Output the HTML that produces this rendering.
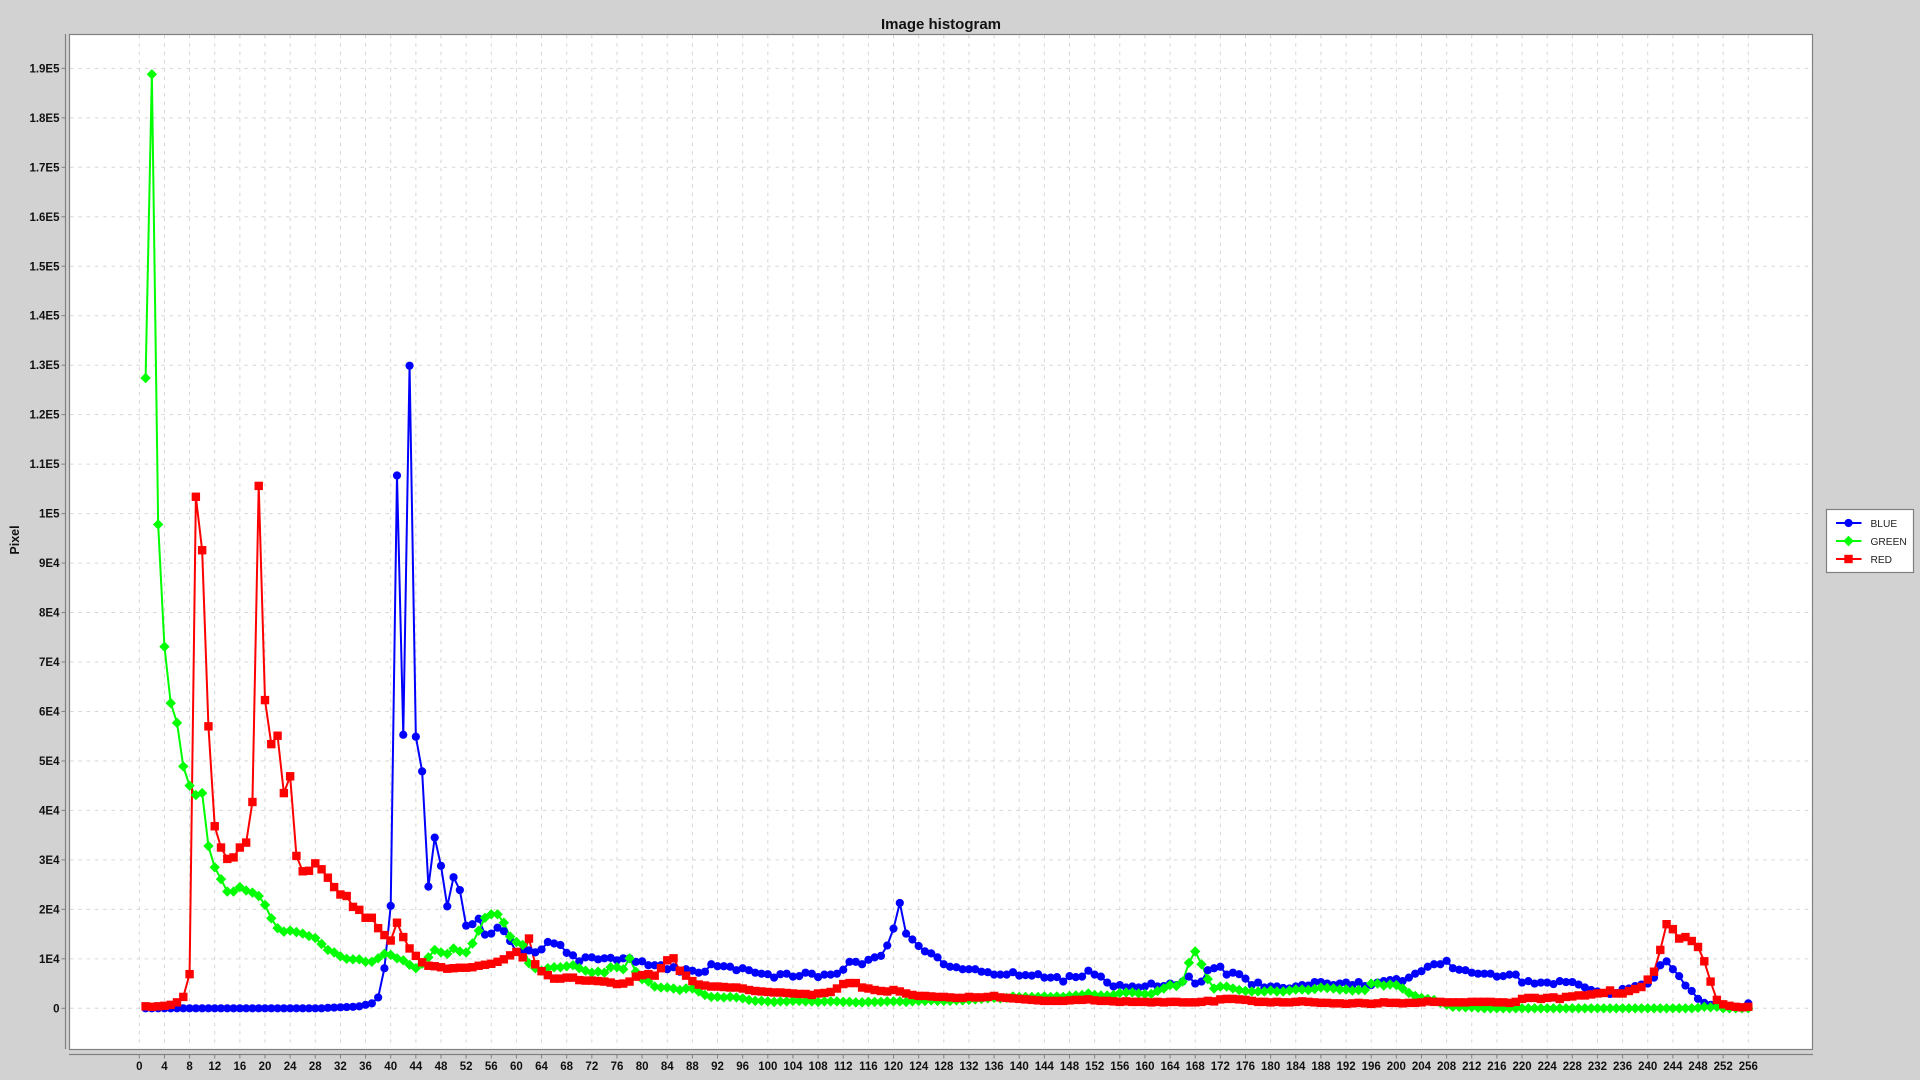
<!DOCTYPE html>
<html lang="en">
<head>
<meta charset="utf-8">
<title>Image histogram</title>
<style>
html,body{margin:0;padding:0;width:1920px;height:1080px;overflow:hidden;background:#d2d2d2;}
svg{display:block;}
text{font-family:"Liberation Sans",sans-serif;fill:#111;}
.tick{font-size:11.5px;font-weight:bold;}
.legend-text{font-size:10.2px;fill:#222;}
</style>
</head>
<body>
<svg id="chart" xmlns="http://www.w3.org/2000/svg" width="1920" height="1080" viewBox="0 0 1920 1080">
  <rect x="0" y="0" width="1920" height="1080" fill="#d2d2d2"/>
  <text x="941" y="29" text-anchor="middle" font-size="15" font-weight="bold">Image histogram</text>
  <rect x="69.5" y="34.5" width="1743" height="1015" fill="#ffffff" stroke="#808080" stroke-width="1.2"/>
  <g id="grid"></g>
  <g id="axes">
    <line x1="65.5" y1="34" x2="65.5" y2="1049" stroke="#808080" stroke-width="1.2"/>
    <line x1="69" y1="1054.5" x2="1813" y2="1054.5" stroke="#808080" stroke-width="1.2"/>
  </g>
  <text transform="translate(19,540) rotate(-90)" text-anchor="middle" font-size="12.5" font-weight="bold">Pixel</text>
  <g id="lines"></g>
  <g id="markers"></g>
  <g id="legend">
    <rect x="1826.5" y="509.5" width="87" height="63" fill="#ffffff" stroke="#808080" stroke-width="1.2"/>
    <g>
      <line x1="1836" y1="523" x2="1861.5" y2="523" stroke="#0000ff" stroke-width="2"/>
      <circle cx="1848.5" cy="523" r="4.1" fill="#0000ff"/>
      <text class="legend-text" x="1870.5" y="527">BLUE</text>
    </g>
    <g>
      <line x1="1836" y1="541" x2="1861.5" y2="541" stroke="#00ff00" stroke-width="2"/>
      <polygon points="1848.5,535.8 1853.7,541 1848.5,546.2 1843.3,541" fill="#00ff00"/>
      <text class="legend-text" x="1870.5" y="545">GREEN</text>
    </g>
    <g>
      <line x1="1836" y1="559" x2="1861.5" y2="559" stroke="#ff0000" stroke-width="2"/>
      <rect x="1844.3" y="554.8" width="8.4" height="8.4" fill="#ff0000"/>
      <text class="legend-text" x="1870.5" y="563">RED</text>
    </g>
  </g>
</svg>
<script>
const xTickLabels = [0,4,8,12,16,20,24,28,32,36,40,44,48,52,56,60,64,68,72,76,80,84,88,92,96,100,104,108,112,116,120,124,128,132,136,140,144,148,152,156,160,164,168,172,176,180,184,188,192,196,200,204,208,212,216,220,224,228,232,236,240,244,248,252,256];
const yTickValues = [0,10000,20000,30000,40000,50000,60000,70000,80000,90000,100000,110000,120000,130000,140000,150000,160000,170000,180000,190000];
const yTickLabels = ["0","1E4","2E4","3E4","4E4","5E4","6E4","7E4","8E4","9E4","1E5","1.1E5","1.2E5","1.3E5","1.4E5","1.5E5","1.6E5","1.7E5","1.8E5","1.9E5"];

const blueValues = [
0,0,0,0,0,0,0,0,0,0,
0,0,0,0,0,0,0,0,0,0,
0,0,0,0,0,0,0,0,0,100,
150,200,250,300,400,700,1000,2200,8100,20700,
107700,55300,129900,54900,47900,24600,34500,28800,20600,26500,
23900,16700,17000,18100,14900,15100,16300,15600,13600,11400,
11600,11700,11300,11900,13400,13100,12800,11200,10700,9500,
10300,10300,9900,10100,10200,9700,10100,10100,9400,9500,
8700,8700,8700,7900,8300,7400,7900,7600,7200,7400,
8900,8500,8500,8400,7700,8100,7700,7200,7000,6900,
6200,6900,7000,6400,6500,7200,7000,6300,6800,6800,
7000,7800,9400,9400,8900,9800,10300,10600,12700,16100,
21300,15100,13900,12600,11500,11100,10300,8900,8400,8300,
7900,7900,7900,7400,7300,6800,6800,6800,7300,6600,
6700,6600,6900,6200,6200,6300,5400,6500,6300,6400,
7600,6800,6400,5200,4400,4700,4200,4400,4200,4400,
5000,4400,4500,5000,4700,5400,6400,5000,5400,7700,
8100,8400,6800,7200,6900,6000,4700,5200,4200,4400,
4400,4100,4000,4400,4700,4600,5300,5300,5000,4700,
5000,5200,4700,5300,4500,4700,5200,5500,5700,5900,
5500,6200,7000,7500,8400,8900,8900,9600,8100,7800,
7700,7200,7000,7000,7000,6400,6500,6800,6800,5200,
5500,5000,5200,5200,4900,5500,5300,5300,4800,4200,
3700,3400,3100,2900,3100,3900,4000,4500,4800,5000,
6200,8700,9500,7900,6500,4600,3500,1900,1100,700,
500,300,200,100,100,1000];

const greenValues = [
127400,188800,97800,73100,61700,57700,48900,45000,43100,43500,
32800,28500,26100,23600,23600,24500,23800,23400,22700,20900,
18200,16200,15500,15700,15400,15100,14600,14200,13000,11800,
11300,10500,10000,9900,9900,9400,9400,10100,11000,10800,
10100,9700,8800,8100,9000,10300,11800,11300,11000,12100,
11500,11300,13100,15700,18300,19000,19000,17300,14500,13400,
12800,9100,8100,7600,8100,8300,8300,8500,8700,8100,
7600,7200,7400,7200,8300,8300,7900,10100,7400,5900,
5400,4400,4200,4200,4000,3700,4000,4000,3400,2700,
2300,2300,2200,2300,2200,2000,1700,1500,1500,1400,
1300,1400,1400,1500,1500,1400,1400,1300,1400,1400,
1400,1300,1300,1200,1200,1300,1300,1300,1400,1400,
1400,1300,1400,1500,1500,1600,1500,1500,1500,1600,
1600,1700,1800,1900,2000,2100,2000,2100,2400,2300,
2300,2300,2300,2400,2300,2400,2300,2500,2600,2700,
3000,2700,2600,2600,2700,3100,3200,3200,3000,2900,
2900,3500,4000,4700,4500,5400,9200,11500,8900,5900,
4000,4400,4400,4000,3700,3500,3400,3400,3400,3600,
3400,3400,3600,3800,3800,3700,3900,4200,4100,4000,
3800,3800,3600,3700,3700,5000,5000,4600,4800,4700,
4000,3100,2500,2100,1900,1700,1100,700,300,300,
200,200,100,0,0,0,0,0,0,0,
0,0,0,0,0,0,0,0,0,0,
0,0,0,0,0,0,0,0,0,0,
0,0,0,0,0,0,0,100,300,200,
300,0,0,0,0,0];

const redValues = [
400,300,400,500,700,1200,2300,6900,103400,92600,
57000,36800,32500,30200,30500,32500,33500,41700,105600,62300,
53400,55100,43500,46900,30800,27700,27800,29300,28100,26400,
24500,23000,22700,20500,19900,18300,18300,16200,14800,13700,
17300,14400,12100,10600,9300,8600,8500,8300,8000,8100,
8200,8200,8300,8600,8800,9000,9400,9900,10700,11400,
10300,14100,8900,7500,6700,6000,6000,6200,6200,5700,
5600,5600,5500,5400,5200,4900,5000,5400,6400,6700,
6900,6600,8100,9700,10100,7600,6600,5500,4800,4600,
4400,4400,4300,4200,4200,4000,3700,3500,3400,3300,
3200,3200,3100,3000,2900,2900,2700,3000,3100,3300,
4000,4900,5100,5100,4200,4000,3700,3500,3400,3700,
3400,3000,2700,2500,2500,2400,2300,2300,2200,2100,
2100,2300,2200,2200,2300,2500,2200,2100,2000,1900,
1800,1700,1600,1500,1500,1500,1500,1600,1700,1700,
1800,1600,1500,1500,1400,1300,1400,1300,1300,1300,
1200,1300,1200,1300,1300,1200,1200,1200,1300,1500,
1400,1800,1900,1900,1800,1700,1500,1300,1300,1200,
1300,1200,1200,1300,1400,1300,1200,1100,1100,1000,
1000,900,1000,1100,1000,900,1000,1200,1100,1100,
1000,1100,1100,1200,1400,1300,1300,1200,1200,1200,
1200,1300,1300,1300,1300,1200,1200,1100,1300,1900,
2100,2100,1900,2100,2200,1900,2300,2400,2600,2600,
2800,3000,3100,3600,3000,3000,3500,3900,4300,5800,
7400,11800,17000,16000,14100,14400,13600,12400,9500,5400,
1700,800,500,300,200,300];

const SVG_NS = "http://www.w3.org/2000/svg";
function xScale(v){ return 139.3 + v * (1609 / 256); }
function yScale(v){ return 1008.3 - v * (49.47 / 10000); }
function make(tag, attrs, parent){
  const el = document.createElementNS(SVG_NS, tag);
  for (const k in attrs) el.setAttribute(k, attrs[k]);
  parent.appendChild(el);
  return el;
}
const gridGroup = document.getElementById('grid');
const axesGroup = document.getElementById('axes');
const linesGroup = document.getElementById('lines');
const markersGroup = document.getElementById('markers');
const GRID_STYLE = {stroke:'#d6d6d6','stroke-width':1,'stroke-dasharray':'3.5 4.8',fill:'none'};

yTickValues.forEach(function(v, i){
  const y = yScale(v);
  const g = make('line', Object.assign({x1:70,y1:y,x2:1809,y2:y}, GRID_STYLE), gridGroup);
  
  
  const t = make('line', {x1:61.5,y1:y,x2:65.5,y2:y,stroke:'#808080','stroke-width':1}, axesGroup);
  
  
  const l = make('text', {x:59.5,y:y+4,'text-anchor':'end','class':'tick'}, axesGroup);
  
  
  l.textContent = yTickLabels[i];
});

xTickLabels.forEach(function(v){
  const x = xScale(v);
  const g = make('line', Object.assign({x1:x,y1:35,x2:x,y2:1048}, GRID_STYLE), gridGroup);
  
  
  const t = make('line', {x1:x,y1:1054.5,x2:x,y2:1058.5,stroke:'#808080','stroke-width':1}, axesGroup);
  
  
  const l = make('text', {x:x,y:1070,'text-anchor':'middle','class':'tick'}, axesGroup);
  
  
  l.textContent = String(v);
});

function drawLine(values, color, name){
  const pts = values.map(function(v, i){ return xScale(i + 1).toFixed(2) + ',' + yScale(v).toFixed(2); }).join(' ');
  const p = make('polyline', {points:pts,fill:'none',stroke:color,'stroke-width':2,'stroke-linejoin':'round'}, linesGroup);
  
  
}
function drawBlue(){
  blueValues.forEach(function(v, i){
    const c = make('circle', {cx:xScale(i + 1),cy:yScale(v),r:4.1,fill:'#0000ff'}, markersGroup);
    
    
  });
}
function drawGreen(){
  greenValues.forEach(function(v, i){
    const x = xScale(i + 1), y = yScale(v), r = 5.2;
    const d = make('polygon', {points:[x,y-r,x+r,y,x,y+r,x-r,y].join(' '),fill:'#00ff00'}, markersGroup);
    
    
  });
}
function drawRed(){
  redValues.forEach(function(v, i){
    const s = make('rect', {x:xScale(i + 1) - 4.2,y:yScale(v) - 4.2,width:8.4,height:8.4,fill:'#ff0000'}, markersGroup);
    
    
  });
}
drawLine(blueValues, '#0000ff', 'blue-series-line');
drawLine(greenValues, '#00ff00', 'green-series-line');
drawLine(redValues, '#ff0000', 'red-series-line');
drawBlue();
drawGreen();
drawRed();
</script>
</body>
</html>
